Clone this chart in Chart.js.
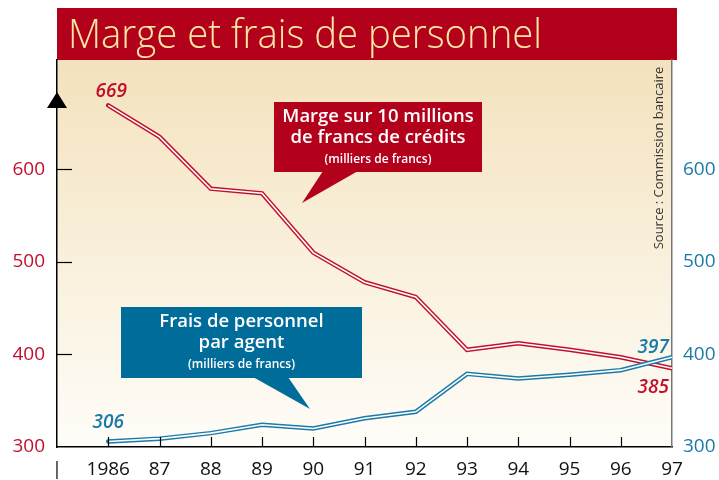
<!DOCTYPE html>
<html>
<head>
<meta charset="utf-8">
<script src="https://cdn.jsdelivr.net/npm/chart.js@4.4.1/dist/chart.umd.min.js"></script>
<style>
  html, body { margin: 0; padding: 0; background: #fff; }
</style>
</head>
<body>
<canvas id="my-chart" width="719" height="480"></canvas>
<script>
const title = 'Marge et frais de personnel';
const years = [1986, 1987, 1988, 1989, 1990, 1991, 1992, 1993, 1994, 1995, 1996, 1997];
const marge = [669, 635, 579, 574, 510, 478, 462, 405, 412, 405, 397, 385];
const frais = [306, 309, 315, 324, 320, 331, 338, 379, 374, 378, 383, 397];
const yTicks = [300, 400, 500, 600];
const margeNote = ['Marge sur 10 millions', 'de francs de crédits', '(milliers de francs)'];
const fraisNote = ['Frais de personnel', 'par agent', '(milliers de francs)'];
const source = 'Source : Commission bancaire';

const RED = '#c0102c';
const BLUE = '#1a7aa8';
const FONT = '"Open Sans", "Noto Sans", sans-serif';

const toPoints = vals => years.map((y, i) => ({ x: y, y: vals[i] }));

const yearLabel = v => {
  if (v === 1985) return '|';
  if (v === 1986) return '1986';
  return String(v).slice(2);
};

const bubble = (ctx, box, tip, base, fill, lines) => {
  ctx.save();
  ctx.fillStyle = fill;
  ctx.fillRect(box.x, box.y, box.w, box.h);
  ctx.beginPath();
  ctx.moveTo(base[0], box.y + box.h - 1);
  ctx.lineTo(tip[0], tip[1]);
  ctx.lineTo(base[1], box.y + box.h - 1);
  ctx.closePath();
  ctx.fill();
  ctx.fillStyle = '#fff';
  ctx.textAlign = 'center';
  ctx.textBaseline = 'middle';
  const cx = box.x + box.w / 2;
  ctx.font = '600 18.5px ' + FONT;
  ctx.fillText(lines[0], cx, box.y + 15);
  ctx.fillText(lines[1], cx, box.y + 36);
  ctx.font = '600 12px ' + FONT;
  ctx.fillText(lines[2], cx, box.y + 58);
  ctx.restore();
};

const decor = {
  id: 'decor',
  beforeDraw(chart) {
    const { ctx, chartArea: a } = chart;
    ctx.save();
    ctx.fillStyle = '#fff';
    ctx.fillRect(0, 0, chart.width, chart.height);
    const g = ctx.createLinearGradient(0, a.top, 0, a.bottom);
    g.addColorStop(0, '#f3e2bd');
    g.addColorStop(1, '#fffdf9');
    ctx.fillStyle = g;
    ctx.fillRect(a.left, a.top, a.right - a.left, a.bottom - a.top);
    // title banner
    ctx.fillStyle = '#b3001b';
    ctx.fillRect(a.left, 8, 620, a.top - 8);
    ctx.fillStyle = '#f8e8a6';
    ctx.font = '300 40px ' + FONT;
    ctx.textBaseline = 'alphabetic';
    const w = ctx.measureText(title).width;
    ctx.translate(68, 48);
    ctx.scale(474 / w, 1);
    ctx.fillText(title, 0, 0);
    ctx.restore();
  },
  afterDraw(chart) {
    const { ctx, chartArea: a, scales } = chart;
    const x = scales.x, y = scales.y;
    ctx.save();
    ctx.strokeStyle = '#000';
    ctx.lineWidth = 1.2;
    // inner ticks on the left axis
    yTicks.slice(1).forEach(v => {
      const py = Math.round(y.getPixelForValue(v)) + 0.5;
      ctx.beginPath();
      ctx.moveTo(a.left, py);
      ctx.lineTo(a.left + 15, py);
      ctx.stroke();
    });
    // inner ticks on the bottom axis
    years.slice(0, -1).forEach(v => {
      const px = Math.round(x.getPixelForValue(v)) + 0.5;
      ctx.beginPath();
      ctx.moveTo(px, a.bottom);
      ctx.lineTo(px, a.bottom - 10);
      ctx.stroke();
    });
    // arrow head
    ctx.fillStyle = '#000';
    ctx.beginPath();
    ctx.moveTo(a.left, 92);
    ctx.lineTo(a.left - 10, 108);
    ctx.lineTo(a.left + 10, 108);
    ctx.closePath();
    ctx.fill();

    // value labels
    ctx.font = 'italic 600 19px ' + FONT;
    ctx.textBaseline = 'middle';
    ctx.textAlign = 'center';
    ctx.fillStyle = RED;
    ctx.fillText(String(marge[0]), x.getPixelForValue(years[0]) + 3, y.getPixelForValue(marge[0]) - 14);
    ctx.textAlign = 'right';
    ctx.fillText(String(marge[marge.length - 1]), a.right - 3, y.getPixelForValue(marge[marge.length - 1]) + 19);
    ctx.fillStyle = BLUE;
    ctx.textAlign = 'center';
    ctx.fillText(String(frais[0]), x.getPixelForValue(years[0]), y.getPixelForValue(frais[0]) - 19);
    ctx.textAlign = 'right';
    ctx.fillText(String(frais[frais.length - 1]), a.right - 3, y.getPixelForValue(frais[frais.length - 1]) - 10);

    // source
    ctx.save();
    ctx.translate(a.right - 13, 158);
    ctx.rotate(-Math.PI / 2);
    ctx.fillStyle = '#333';
    ctx.font = '13px ' + FONT;
    ctx.textAlign = 'center';
    ctx.fillText(source, 0, 0);
    ctx.restore();

    bubble(ctx, { x: 274, y: 102, w: 208, h: 70 }, [302, 203], [323, 358], '#b3001b', margeNote);
    bubble(ctx, { x: 121, y: 307, w: 241, h: 71 }, [310, 409], [253, 288], '#006c9a', fraisNote);
    ctx.restore();
  }
};

const outer = (data, color, order) => ({
  data: toPoints(data), borderColor: color, borderWidth: 4.5, pointRadius: 0,
  borderJoinStyle: 'miter', borderCapStyle: 'round', tension: 0, order
});
const inner = (data, order) => ({
  data: toPoints(data), borderColor: '#fff', borderWidth: 1.6, pointRadius: 0,
  borderJoinStyle: 'miter', tension: 0, order
});

new Chart(document.getElementById('my-chart'), {
  type: 'line',
  data: {
    datasets: [
      outer(marge, RED, 3),
      inner(marge, 2),
      outer(frais, BLUE, 1),
      inner(frais, 0)
    ]
  },
  options: {
    responsive: false,
    animation: false,
    layout: { padding: { top: 60, left: 0, right: 0, bottom: 0 } },
    plugins: { legend: { display: false }, tooltip: { enabled: false }, title: { display: false } },
    scales: {
      x: {
        type: 'linear', min: 1985, max: 1997,
        afterBuildTicks: s => { s.ticks = [1985].concat(years).map(v => ({ value: v })); },
        afterFit: s => { s.height = 33; },
        grid: { display: false, drawTicks: false },
        border: { display: true, color: '#000', width: 1.5 },
        ticks: { callback: v => yearLabel(v), color: '#111', font: { family: FONT, size: 19 }, padding: 11, maxRotation: 0, autoSkip: false }
      },
      y: {
        position: 'left', min: 300, max: 718,
        afterBuildTicks: s => { s.ticks = yTicks.map(v => ({ value: v })); },
        afterFit: s => { s.width = 57; },
        grid: { display: false, drawTicks: false },
        border: { display: true, color: '#000', width: 1.5 },
        ticks: { color: RED, font: { family: FONT, size: 19, weight: 500 }, padding: 12 }
      },
      y1: {
        position: 'right', min: 300, max: 718,
        afterBuildTicks: s => { s.ticks = yTicks.map(v => ({ value: v })); },
        afterFit: s => { s.width = 47; },
        grid: { display: false, drawTicks: false },
        border: { display: true, color: '#777', width: 1.5 },
        ticks: { color: BLUE, font: { family: FONT, size: 19, weight: 500 }, padding: 11 }
      }
    }
  },
  plugins: [decor]
});
</script>
</body>
</html>
